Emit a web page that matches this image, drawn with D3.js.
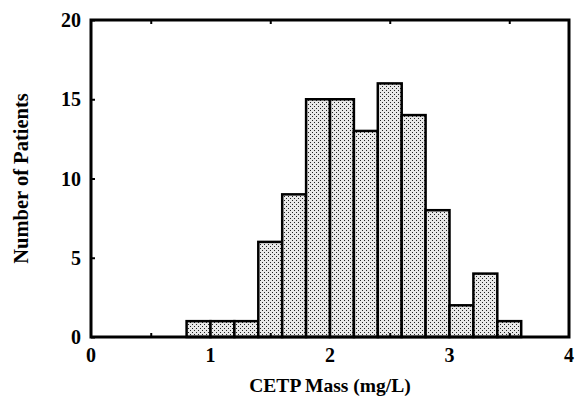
<!DOCTYPE html>
<html><head><meta charset="utf-8">
<script src="https://d3js.org/d3.v7.min.js"></script>
<style>body{margin:0;background:#fff}svg{display:block}</style>
</head><body><div id="c"></div>
<script>
const binStarts = [0.8,1.0,1.2,1.4,1.6,1.8,2.0,2.2,2.4,2.6,2.8,3.0,3.2,3.4];
const counts = [1,1,1,6,9,15,15,13,16,14,8,2,4,1];
const binWidth = 0.2;
const xTickValues = [0,1,2,3,4];
const yTickValues = [0,5,10,15,20];

const W=575,H=398;
const svg=d3.select("#c").append("svg").attr("width",W).attr("height",H);
const x=d3.scaleLinear().domain([0,4]).range([91,569]);
const y=d3.scaleLinear().domain([0,20]).range([337,20]);

const defs=svg.append("defs");
const pat=defs.append("pattern").attr("id","dots").attr("patternUnits","userSpaceOnUse").attr("width",4).attr("height",4);
pat.append("rect").attr("width",4).attr("height",4).attr("fill","#e8e8e8");
pat.append("rect").attr("x",0).attr("y",0).attr("width",1).attr("height",1).attr("fill","#222");
pat.append("rect").attr("x",2).attr("y",2).attr("width",1).attr("height",1).attr("fill","#222");

svg.append("g").selectAll("rect").data(counts).join("rect")
 .attr("x",(d,i)=>x(binStarts[i]))
 .attr("y",d=>y(d))
 .attr("width",(d,i)=>x(binStarts[i]+binWidth)-x(binStarts[i]))
 .attr("height",d=>y(0)-y(d))
 .attr("fill","url(#dots)").attr("stroke","#000").attr("stroke-width",2.5);

const font="'Liberation Serif','Times New Roman',serif";
const xb=svg.append("g").attr("transform",`translate(0,${y(0)})`)
 .call(d3.axisBottom(x).tickValues([0.5,1.5,2.5,3.5]).tickSize(-4).tickFormat(""));
const xt=svg.append("g").attr("transform",`translate(0,${y(20)})`)
 .call(d3.axisTop(x).tickValues([0.5,1.5,2.5,3.5]).tickSize(-4).tickFormat(""));
const yl=svg.append("g").attr("transform",`translate(${x(0)},0)`)
 .call(d3.axisLeft(y).tickValues(yTickValues).tickSize(-4).tickFormat(""));
[xb,xt,yl].forEach(g=>{g.select(".domain").remove();g.selectAll("line").attr("stroke","#000").attr("stroke-width",2);});

svg.append("rect").attr("x",x(0)).attr("y",y(20)).attr("width",x(4)-x(0)).attr("height",y(0)-y(20))
 .attr("fill","none").attr("stroke","#000").attr("stroke-width",3);

svg.append("g").selectAll("text").data(xTickValues).join("text")
 .attr("x",d=>x(d)).attr("y",362).attr("text-anchor","middle")
 .attr("font-family",font).attr("font-weight","bold").attr("font-size",20).text(d=>d);
svg.append("g").selectAll("text").data(yTickValues).join("text")
 .attr("x",81).attr("y",d=>y(d)+7).attr("text-anchor","end")
 .attr("font-family",font).attr("font-weight","bold").attr("font-size",20).text(d=>d);

svg.append("text").attr("x",330).attr("y",392).attr("text-anchor","middle")
 .attr("font-family",font).attr("font-weight","bold").attr("font-size",19.5).text("CETP Mass (mg/L)");
svg.append("text").attr("transform",`translate(28,${(y(0)+y(20))/2}) rotate(-90)`).attr("text-anchor","middle")
 .attr("font-family",font).attr("font-weight","bold").attr("font-size",20.5).text("Number of Patients");
</script></body></html>
